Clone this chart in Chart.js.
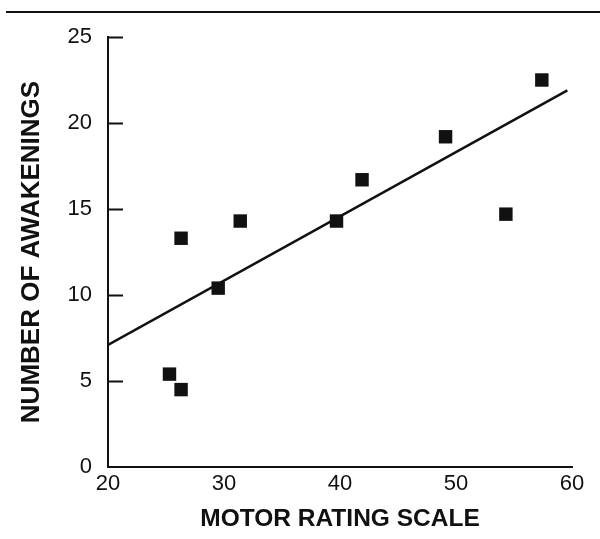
<!DOCTYPE html>
<html>
<head>
<meta charset="utf-8">
<title>Awakenings vs motor rating</title>
<script src="https://cdn.jsdelivr.net/npm/chart.js@4.4.1/dist/chart.umd.min.js"></script>
<style>
    html, body { margin: 0; padding: 0; background: #fff; }
    #wrap { width: 600px; height: 539px; }
</style>
</head>
<body>
<div id="wrap"><canvas id="chart" width="600" height="539"></canvas></div>
<script>
// scatter data
const motorScores = [25.3, 26.3, 26.3, 29.5, 31.4, 39.7, 41.9, 49.1, 54.3, 57.4];
const awakenings = [5.4, 4.5, 13.3, 10.4, 14.3, 14.3, 16.7, 19.2, 14.7, 22.5];

// fitted line (start / end)
const fitX = [20, 59.6];
const fitY = [7.1, 21.9];

const xTicks = [20, 30, 40, 50, 60];
const yTicks = [0, 5, 10, 15, 20, 25];

const INK = '#111';
const FONT = "'Liberation Sans', Arial, Helvetica, sans-serif";

// small inward ticks on the y axis + the rule across the top of the figure
const decorPlugin = {
    id: 'decor',
    afterDraw(chart) {
        const ctx = chart.ctx;
        const y = chart.scales.y;
        const left = chart.chartArea.left;
        ctx.save();
        ctx.strokeStyle = INK;
        ctx.lineWidth = 2;
        ctx.beginPath();
        yTicks.forEach(v => {
            if (v === 0) return;
            const py = Math.round(y.getPixelForValue(v)) + 0.5;
            ctx.moveTo(left, py);
            ctx.lineTo(left + 15, py);
        });
        ctx.stroke();

        ctx.beginPath();
        ctx.lineWidth = 2;
        ctx.moveTo(6, 12);
        ctx.lineTo(chart.width, 12);
        ctx.stroke();
        ctx.restore();
    }
};

const ctx = document.getElementById('chart').getContext('2d');
new Chart(ctx, {
    type: 'scatter',
    data: {
        datasets: [
            {
                label: 'Patients',
                data: motorScores.map((x, i) => ({ x: x, y: awakenings[i] })),
                pointStyle: 'rect',
                pointRadius: 9.5,
                backgroundColor: INK,
                borderColor: INK,
                borderWidth: 0
            },
            {
                type: 'line',
                label: 'Fit',
                data: fitX.map((x, i) => ({ x: x, y: fitY[i] })),
                borderColor: INK,
                borderWidth: 2.5,
                pointRadius: 0,
                fill: false
            }
        ]
    },
    options: {
        responsive: false,
        animation: false,
        layout: { padding: { top: 37, right: 28, left: 0, bottom: 0 } },
        plugins: {
            legend: { display: false },
            tooltip: { enabled: false }
        },
        scales: {
            x: {
                type: 'linear',
                min: 20,
                max: 60,
                afterBuildTicks: (s) => { s.ticks = xTicks.map(v => ({ value: v })); },
                afterFit: (s) => { s.height = 72; },
                grid: { display: false, drawTicks: false },
                border: { display: true, color: INK, width: 2 },
                ticks: {
                    color: INK,
                    padding: 4,
                    maxRotation: 0,
                    font: { family: FONT, size: 22 }
                },
                title: {
                    display: true,
                    text: 'MOTOR RATING SCALE',
                    color: INK,
                    padding: { top: 0, bottom: 5 },
                    font: { family: FONT, size: 24.5, weight: 'bold' }
                }
            },
            y: {
                type: 'linear',
                min: 0,
                max: 25,
                afterBuildTicks: (s) => { s.ticks = yTicks.map(v => ({ value: v })); },
                afterFit: (s) => { s.width = 108; },
                grid: { display: false, drawTicks: false },
                border: { display: true, color: INK, width: 2 },
                ticks: {
                    color: INK,
                    padding: 16,
                    font: { family: FONT, size: 22 }
                },
                title: {
                    display: true,
                    text: 'NUMBER OF AWAKENINGS',
                    color: INK,
                    padding: { top: 16, bottom: 0 },
                    font: { family: FONT, size: 26, weight: 'bold' }
                }
            }
        }
    },
    plugins: [decorPlugin]
});
</script>
</body>
</html>
